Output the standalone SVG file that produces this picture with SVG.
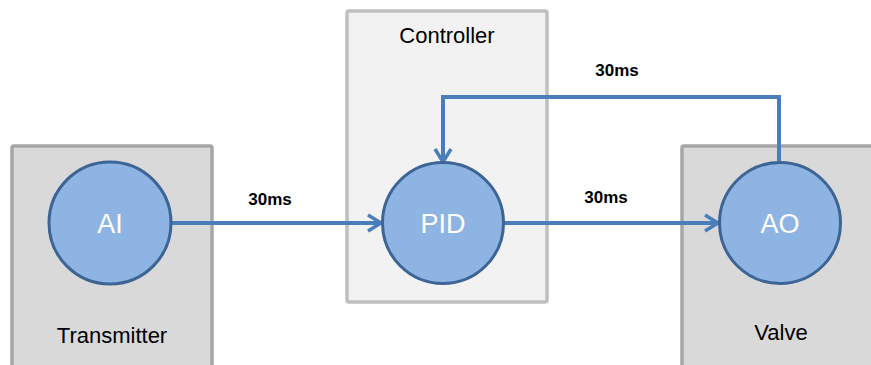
<svg xmlns="http://www.w3.org/2000/svg" width="871" height="365" viewBox="0 0 871 365">
<style>
.dev{fill:#d9d9d9;stroke:#a6a6a6;stroke-width:3.5}
.ctl{fill:#f2f2f2;stroke:#bfbfbf;stroke-width:3.5}
.blk{fill:#8eb4e3;stroke:#3c6494;stroke-width:3}
.blt{font-family:"Liberation Sans",Arial,sans-serif;font-size:27px;fill:#ffffff;text-anchor:middle}
.cap{font-family:"Liberation Sans",Arial,sans-serif;font-size:22px;fill:#000000;text-anchor:middle}
.lbl{font-family:"Liberation Sans",Arial,sans-serif;font-size:17px;font-weight:bold;fill:#000000;text-anchor:middle}
.con{fill:none;stroke:#4a7ebb;stroke-width:4}
</style>
<defs>
<marker id="arr" viewBox="0 0 20 20" refX="16" refY="10" markerWidth="20" markerHeight="20" markerUnits="userSpaceOnUse" orient="auto">
<path d="M3,2 L16,10 L3,18" fill="none" stroke="#4a7ebb" stroke-width="3.5"/>
</marker>
</defs>
<rect width="871" height="365" fill="#ffffff"/>
<g id="transmitter">
<rect class="dev" x="12" y="146" width="200" height="240" rx="2"/>
<text class="cap" x="112" y="343">Transmitter</text>
</g>
<g id="controller">
<rect class="ctl" x="347" y="11" width="200" height="291" rx="2"/>
<text class="cap" x="447" y="43">Controller</text>
</g>
<g id="valve">
<rect class="dev" x="682" y="146" width="210" height="240" rx="2"/>
<text class="cap" x="781" y="340">Valve</text>
</g>
<g id="connectors">
<line class="con" x1="171" y1="223" x2="381" y2="223" marker-end="url(#arr)"/>
<line class="con" x1="503" y1="223" x2="718" y2="223" marker-end="url(#arr)"/>
<polyline class="con" points="779,163 779,97 443,97 443,162" marker-end="url(#arr)"/>
<text class="lbl" x="270" y="205">30ms</text>
<text class="lbl" x="606" y="203">30ms</text>
<text class="lbl" x="617" y="76">30ms</text>
</g>
<g id="ai">
<circle class="blk" cx="110" cy="223" r="61"/>
<text class="blt" x="110" y="233">AI</text>
</g>
<g id="pid">
<circle class="blk" cx="443" cy="223" r="60.5"/>
<text class="blt" x="443" y="233">PID</text>
</g>
<g id="ao">
<circle class="blk" cx="780" cy="223" r="60.5"/>
<text class="blt" x="780" y="233">AO</text>
</g>
</svg>
